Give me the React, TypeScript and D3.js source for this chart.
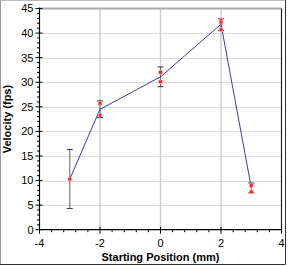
import React, { useEffect } from "react";
import * as d3 from "d3";

// data
const positions = [-3, -2, 0, 2, 3];
const means = [10.3, 24.5, 31.1, 41.8, 8.6];
const errLow = [4.3, 22.8, 29.1, 40.5, 7.5];
const errHigh = [16.3, 26.2, 33.1, 42.9, 9.5];
const trials = [[10.3], [25.7, 23.3], [32.0, 30.1], [42.6, 42.2, 40.7], [9.0, 7.7]];
const xTicks = [-4, -2, 0, 2, 4];
const yTicks = [0, 5, 10, 15, 20, 25, 30, 35, 40, 45];

const W = 288, H = 266;
const margin = { left: 39.5, right: 6.5, top: 8.5, bottom: 36.3 };

const App = () => {
  useEffect(() => {
    document.body.style.margin = "0";
  }, []);

  const x = d3.scaleLinear().domain([-4, 4]).range([margin.left, W - margin.right]);
  const y = d3.scaleLinear().domain([0, 45]).range([H - margin.bottom, margin.top]);
  const line = d3.line<number>().x((d, i) => x(positions[i])).y(d => y(d));

  const xMinor = d3.range(-4, 4.01, 0.4).filter(v => Math.abs(v / 2 - Math.round(v / 2)) > 0.01);
  const yMinor = d3.range(0, 45.01, 1).filter(v => v % 5 !== 0);
  const font = "'Liberation Sans', Arial, sans-serif";

  return (
    <svg width={W} height={H} style={{ position: "absolute", left: 0, top: 0, display: "block" }}>
      <rect x={0} y={0} width={W} height={H} fill="#fff" />
      {/* outer frame */}
      <line x1={0.5} y1={0} x2={0.5} y2={264.5} stroke="#999" />
      <line x1={0} y1={0.5} x2={285.5} y2={0.5} stroke="#bbb" />
      <line x1={285.5} y1={0} x2={285.5} y2={264.5} stroke="#333" />
      <line x1={0} y1={264.5} x2={285.5} y2={264.5} stroke="#333" />

      {/* grid */}
      {yTicks.filter(v => v > 0 && v < 45).map(v => (
        <line key={"gy" + v} x1={x(-4)} x2={x(4)} y1={Math.round(y(v)) + 0.5} y2={Math.round(y(v)) + 0.5} stroke="#dcdcdc" />
      ))}
      {xTicks.filter(v => v > -4 && v < 4).map(v => (
        <line key={"gx" + v} x1={x(v)} x2={x(v)} y1={y(0)} y2={y(45)} stroke="#cfcfcf" strokeWidth={1.5} />
      ))}
      <line x1={x(-4)} x2={x(4)} y1={y(45)} y2={y(45)} stroke="#aaa" strokeWidth={2} />
      <line x1={x(4)} x2={x(4)} y1={y(45)} y2={y(0)} stroke="#222" strokeWidth={1.2} />

      {/* axes */}
      <line x1={x(-4)} x2={x(-4)} y1={y(45) - 1} y2={y(0)} stroke="#000" strokeWidth={1.2} />
      <line x1={x(-4)} x2={x(4)} y1={y(0)} y2={y(0)} stroke="#000" strokeWidth={1.2} />
      {yTicks.map(v => (
        <g key={"yt" + v}>
          <line x1={x(-4) - 4} x2={x(-4) + 3} y1={y(v)} y2={y(v)} stroke="#000" />
          <text x={x(-4) - 6} y={y(v)} dy="0.35em" textAnchor="end" fontSize={11} fontFamily={font}>{v}</text>
        </g>
      ))}
      {yMinor.map(v => (
        <line key={"ym" + v} x1={x(-4) - 2.5} x2={x(-4)} y1={y(v)} y2={y(v)} stroke="#000" />
      ))}
      {xTicks.map(v => (
        <g key={"xt" + v}>
          <line x1={x(v)} x2={x(v)} y1={y(0) - 3} y2={y(0) + 4} stroke="#000" />
          <text x={x(v)} y={y(0) + 17.5} textAnchor="middle" fontSize={11} fontFamily={font}>{v}</text>
        </g>
      ))}
      {xMinor.map(v => (
        <line key={"xm" + v} x1={x(v)} x2={x(v)} y1={y(0)} y2={y(0) + 2.5} stroke="#000" />
      ))}

      {/* error bars */}
      {positions.map((p, i) => (
        <g key={"e" + i} stroke="#666" strokeWidth={1}>
          <line x1={x(p)} x2={x(p)} y1={y(errLow[i])} y2={y(errHigh[i])} />
          <line x1={x(p) - 3} x2={x(p) + 3} y1={y(errLow[i])} y2={y(errLow[i])} stroke="#333" />
          <line x1={x(p) - 3} x2={x(p) + 3} y1={y(errHigh[i])} y2={y(errHigh[i])} stroke="#333" />
        </g>
      ))}

      {/* mean line */}
      <path d={line(means) || ""} fill="none" stroke="#3a3aaa" strokeWidth={1} />

      {/* individual trials */}
      {positions.map((p, i) =>
        trials[i].map((t, j) => (
          <rect key={"t" + i + "-" + j} x={x(p) - 1.75} y={y(t) - 1.75} width={3.5} height={3.5} fill="#ff2020" stroke="#ffaaaa" strokeWidth={0.6} />
        ))
      )}

      {/* axis titles */}
      <text x={x(0)} y={261} textAnchor="middle" fontSize={11} fontWeight="bold" fontFamily={font}>Starting Position (mm)</text>
      <text transform={`translate(11,${y(22.5)}) rotate(-90)`} textAnchor="middle" fontSize={11} fontWeight="bold" fontFamily={font}>Velocity (fps)</text>
    </svg>
  );
};

export default App;
